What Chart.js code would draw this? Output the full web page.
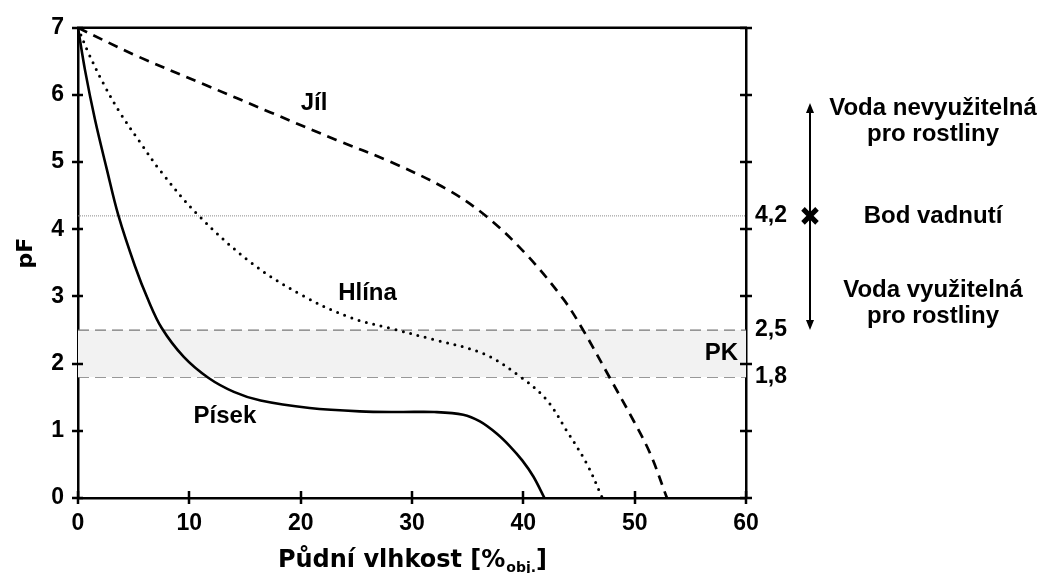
<!DOCTYPE html>
<html lang="cs">
<head>
<meta charset="utf-8">
<title>Retenční čáry půdy</title>
<script src="https://cdn.jsdelivr.net/npm/chart.js@4.4.1/dist/chart.umd.min.js"></script>
<style>
  html, body { margin: 0; padding: 0; background: #fff; }
  #wrap { width: 1043px; height: 573px; }
</style>
</head>
<body>
<div id="wrap"><canvas id="pfChart" width="1043" height="573"></canvas></div>
<script>
// retenční čáry: půdní vlhkost [% obj.] -> pF
var pisekVlhkost = [0, 0.63, 1.53, 2.58, 3.62, 5.12, 6.3, 7.52, 9.5, 11.7, 14, 16.4, 20.8, 25.3, 29, 32, 34.6, 36.1, 37.6, 38.8, 39.9, 40.9, 41.9];
var pisekPF      = [7, 6.37, 5.63, 4.9, 4.21, 3.45, 2.95, 2.53, 2.1, 1.79, 1.58, 1.45, 1.34, 1.29, 1.28, 1.28, 1.24, 1.14, 0.96, 0.77, 0.56, 0.32, 0];

var hlinaVlhkost = [0, 0.9, 2.25, 3.8, 5.6, 7.4, 10.8, 15.5, 20, 24.4, 28.2, 31.9, 36.4, 39.7, 42.1, 43.9, 45.7, 47.1];
var hlinaPF      = [7, 6.64, 6.18, 5.73, 5.29, 4.87, 4.21, 3.51, 3.03, 2.69, 2.52, 2.36, 2.15, 1.81, 1.46, 1.0, 0.51, 0];

var jilVlhkost = [0, 5.3, 11.3, 17.3, 23.2, 28, 33.1, 36.7, 40.3, 43.6, 45.3, 47.8, 49.9, 51.4, 52.9];
var jilPF      = [7, 6.58, 6.16, 5.74, 5.33, 5.01, 4.6, 4.19, 3.62, 2.96, 2.52, 1.78, 1.15, 0.66, 0];

// význačné hodnoty pF
var bodVadnuti = 4.2;
var pkHorni = 2.5;
var pkDolni = 1.8;
var pravaOsaHodnoty = [pkDolni, pkHorni, bodVadnuti];

var xMin = 0, xMax = 60, xKrok = 10;
var yMin = 0, yMax = 7, yKrok = 1;

function body(xs, ys) {
    return xs.map(function (x, i) { return { x: x, y: ys[i] }; });
}
function vodorovna(y) {
    return [{ x: xMin, y: y }, { x: xMax, y: y }];
}

var pismo = '"Liberation Sans", Arial, sans-serif';
var pismoTitulek = '"DejaVu Sans", Verdana, sans-serif';

var dekorace = {
    id: 'dekorace',
    afterDraw: function (chart) {
        var ctx = chart.ctx;
        var a = chart.chartArea;
        var sx = chart.scales.x, sy = chart.scales.y;
        var i, p;

        ctx.save();
        ctx.strokeStyle = '#000';
        ctx.fillStyle = '#000';

        // horní okraj grafu
        ctx.lineWidth = 2.5;
        ctx.beginPath();
        ctx.moveTo(a.left - 1, a.top);
        ctx.lineTo(a.right + 1, a.top);
        ctx.stroke();

        // značky na osách (přes osu)
        ctx.lineWidth = 2.5;
        ctx.beginPath();
        for (i = xMin; i <= xMax; i += xKrok) {
            p = Math.round(sx.getPixelForValue(i));
            ctx.moveTo(p, a.bottom - 7);
            ctx.lineTo(p, a.bottom + 6);
        }
        for (i = yMin; i <= yMax; i += yKrok) {
            p = Math.round(sy.getPixelForValue(i));
            ctx.moveTo(a.left - 6, p);
            ctx.lineTo(a.left + 5, p);
            ctx.moveTo(a.right - 6, p);
            ctx.lineTo(a.right + 6, p);
        }
        ctx.stroke();

        // popisky křivek
        ctx.font = 'bold 24px ' + pismo;
        ctx.textBaseline = 'middle';
        ctx.textAlign = 'center';
        ctx.fillText('Jíl', sx.getPixelForValue(21.2), sy.getPixelForValue(5.88));
        ctx.fillText('Hlína', sx.getPixelForValue(26.0), sy.getPixelForValue(3.04));
        ctx.fillText('Písek', sx.getPixelForValue(13.2), sy.getPixelForValue(1.22));
        ctx.textAlign = 'right';
        ctx.fillText('PK', sx.getPixelForValue(59.3), sy.getPixelForValue(2.15));

        // šipka vpravo
        var ax = a.right + 64;
        var yTop = sy.getPixelForValue(5.88);
        var yBot = sy.getPixelForValue(pkHorni);
        ctx.lineWidth = 2;
        ctx.beginPath();
        ctx.moveTo(ax, yTop + 6);
        ctx.lineTo(ax, yBot - 6);
        ctx.stroke();
        ctx.beginPath();
        ctx.moveTo(ax, yTop);
        ctx.lineTo(ax - 4, yTop + 10);
        ctx.lineTo(ax + 4, yTop + 10);
        ctx.closePath();
        ctx.fill();
        ctx.beginPath();
        ctx.moveTo(ax, yBot);
        ctx.lineTo(ax - 4, yBot - 10);
        ctx.lineTo(ax + 4, yBot - 10);
        ctx.closePath();
        ctx.fill();

        // bod vadnutí - křížek
        var yv = sy.getPixelForValue(bodVadnuti);
        ctx.lineWidth = 5;
        ctx.beginPath();
        ctx.moveTo(ax - 7, yv - 7);
        ctx.lineTo(ax + 7, yv + 7);
        ctx.moveTo(ax + 7, yv - 7);
        ctx.lineTo(ax - 7, yv + 7);
        ctx.stroke();

        // texty vpravo
        var tx = a.right + 187;
        ctx.textAlign = 'center';
        ctx.font = 'bold 24px ' + pismo;
        ctx.fillText('Voda nevyužitelná', tx, 108);
        ctx.fillText('pro rostliny', tx, 134);
        ctx.fillText('Bod vadnutí', tx, yv);
        ctx.fillText('Voda využitelná', tx, 290);
        ctx.fillText('pro rostliny', tx, 316);

        // název osy x s dolním indexem
        var hlavni = 'Půdní vlhkost [%';
        var index = 'obj.';
        var konec = ']';
        ctx.textAlign = 'left';
        ctx.textBaseline = 'alphabetic';
        ctx.font = 'bold 24px ' + pismoTitulek;
        var w1 = ctx.measureText(hlavni).width;
        var w3 = ctx.measureText(konec).width;
        ctx.font = 'bold 14px ' + pismoTitulek;
        var w2 = ctx.measureText(index).width;
        var x0 = (a.left + a.right) / 2 - (w1 + w2 + w3) / 2;
        var base = 567;
        ctx.font = 'bold 24px ' + pismoTitulek;
        ctx.fillText(hlavni, x0, base);
        ctx.fillText(konec, x0 + w1 + w2 + 1, base);
        ctx.font = 'bold 14px ' + pismoTitulek;
        ctx.fillText(index, x0 + w1 + 1, base + 5);

        // název osy y
        ctx.translate(26, 253);
        ctx.rotate(-Math.PI / 2);
        ctx.textAlign = 'center';
        ctx.textBaseline = 'middle';
        ctx.font = 'bold 22px ' + pismoTitulek;
        ctx.fillText('pF', 0, 0);

        ctx.restore();
    }
};

var krivky = {
    datasets: [
        {
            label: 'Písek',
            data: body(pisekVlhkost, pisekPF),
            borderColor: '#000',
            borderWidth: 2.6,
            tension: 0.35,
            order: 1
        },
        {
            label: 'Hlína',
            data: body(hlinaVlhkost, hlinaPF),
            borderColor: '#000',
            borderWidth: 3,
            borderDash: [0, 7.6],
            borderCapStyle: 'round',
            tension: 0.35,
            order: 1
        },
        {
            label: 'Jíl',
            data: body(jilVlhkost, jilPF),
            borderColor: '#000',
            borderWidth: 2.7,
            borderDash: [10, 7],
            tension: 0.35,
            order: 1
        },
        {
            label: 'bod vadnutí',
            data: vodorovna(bodVadnuti),
            borderColor: '#8a8a8a',
            borderWidth: 1,
            borderDash: [1, 1],
            order: 5
        },
        {
            label: 'PK horní',
            data: vodorovna(pkHorni),
            borderColor: '#777',
            borderWidth: 1.2,
            borderDash: [11, 6],
            backgroundColor: '#f2f2f2',
            fill: '+1',
            order: 10
        },
        {
            label: 'PK dolní',
            data: vodorovna(pkDolni),
            borderColor: '#777',
            borderWidth: 1.2,
            borderDash: [11, 6],
            order: 10
        }
    ]
};

var moznosti = {
    responsive: false,
    animation: false,
    layout: { padding: { top: 22, left: 0, right: 0, bottom: 0 } },
    elements: { point: { radius: 0, hoverRadius: 0 }, line: { fill: false } },
    plugins: {
        legend: { display: false },
        tooltip: { enabled: false }
    },
    scales: {
        x: {
            type: 'linear',
            min: xMin,
            max: xMax,
            ticks: { stepSize: xKrok, color: '#000', padding: 12, font: { family: pismo, size: 23, weight: 'bold' } },
            grid: { display: false, drawTicks: false },
            border: { color: '#000', width: 2.5 },
            afterFit: function (s) { s.height = 75; }
        },
        y: {
            type: 'linear',
            position: 'left',
            min: yMin,
            max: yMax,
            ticks: { stepSize: yKrok, color: '#000', padding: 14, font: { family: pismo, size: 23, weight: 'bold' } },
            grid: { display: false, drawTicks: false },
            border: { color: '#000', width: 2.5 },
            afterFit: function (s) { s.width = 78; }
        },
        y2: {
            type: 'linear',
            position: 'right',
            min: yMin,
            max: yMax,
            afterBuildTicks: function (s) {
                s.ticks = pravaOsaHodnoty.map(function (v) { return { value: v }; });
            },
            ticks: {
                color: '#000',
                padding: 9,
                font: { family: pismo, size: 23, weight: 'bold' },
                callback: function (v) { return String(v).replace('.', ','); }
            },
            grid: { display: false, drawTicks: false },
            border: { color: '#000', width: 2.5 },
            afterFit: function (s) { s.width = 297; }
        }
    }
};

var kontext = document.getElementById('pfChart').getContext('2d');

var graf = new Chart(kontext, {
    type: 'line',
    data: krivky,
    options: moznosti,
    plugins: [dekorace]
});
</script>
</body>
</html>
